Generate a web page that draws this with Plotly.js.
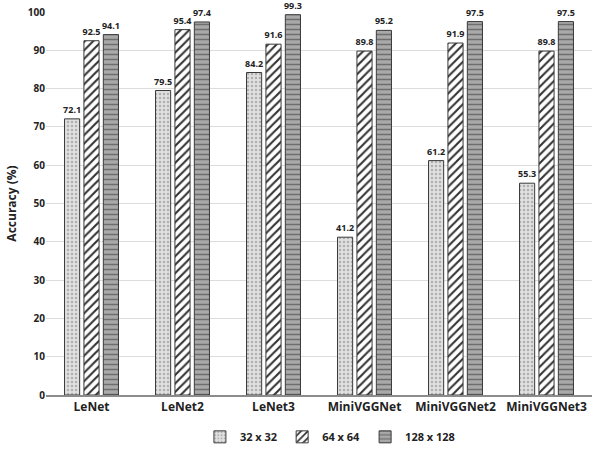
<!DOCTYPE html>
<html>
<head>
<meta charset="utf-8">
<script src="https://cdn.plot.ly/plotly-3.0.1.min.js"></script>
<style>
  body { margin: 0; background: #fff; }
  #plot { width: 600px; height: 456px; }
</style>
</head>
<body>
<div id="plot"></div>
<script>
// Accuracy by model and input size
var models = ["LeNet", "LeNet2", "LeNet3", "MiniVGGNet", "MiniVGGNet2", "MiniVGGNet3"];
var acc32 = [72.1, 79.5, 84.2, 41.2, 61.2, 55.3];
var acc64 = [92.5, 95.4, 91.6, 89.8, 91.9, 89.8];
var acc128 = [94.1, 97.4, 99.3, 95.2, 97.5, 97.5];

var font = "'Open Sans', Lato, sans-serif";

function barTrace(vals, name, pattern) {
    return {
        x: models,
        y: vals,
        name: name,
        type: "bar",
        text: vals.map(v => v.toFixed(1)),
        textposition: "outside",
        constraintext: "none",
        cliponaxis: false,
        textfont: {family: font, size: 9, color: "#222", weight: "bold"},
        marker: {
            color: pattern.bgcolor,
            line: {color: "#3a3a3a", width: 1},
            pattern: pattern
        }
    };
}

var trace1 = barTrace(acc32, "32 x 32",
    {shape: ".", bgcolor: "#e0e0e0", fgcolor: "#b0b0b0", size: 4, solidity: 0.3});
var trace2 = barTrace(acc64, "64 x 64",
    {shape: "/", bgcolor: "#ffffff", fgcolor: "#333333", size: 6, solidity: 0.35});
var trace3 = barTrace(acc128, "128 x 128",
    {shape: "-", bgcolor: "#a9a9a9", fgcolor: "#6e6e6e", size: 5, solidity: 0.3});

var layout = {
    width: 600,
    height: 456,
    margin: {l: 46, r: 8, t: 12, b: 61},
    paper_bgcolor: "#fff",
    plot_bgcolor: "#fff",
    barmode: "group",
    bargap: 0.36,
    bargroupgap: 0.22,
    font: {family: font, color: "#222"},
    showlegend: true,
    legend: {
        orientation: "h",
        x: 0.52, xanchor: "center",
        yref: "container",
        y: 0.042, yanchor: "middle",
        font: {size: 11, weight: "bold"},
        itemwidth: 30,
        traceorder: "normal"
    },
    xaxis: {
        showline: true,
        linecolor: "#8c8c8c",
        linewidth: 2,
        ticks: "",
        tickfont: {size: 12, weight: "bold"}
    },
    yaxis: {
        range: [0, 100],
        dtick: 10,
        showgrid: true,
        gridcolor: "#dcdcdc",
        zeroline: false,
        showline: false,
        ticks: "",
        ticklen: 0,
        tickfont: {size: 10, weight: "bold"},
        title: {text: "Accuracy (%)", font: {size: 12, weight: "bold"}, standoff: 8}
    }
};

Plotly.newPlot("plot", [trace1, trace2, trace3], layout, {displayModeBar: false});
</script>
</body>
</html>
